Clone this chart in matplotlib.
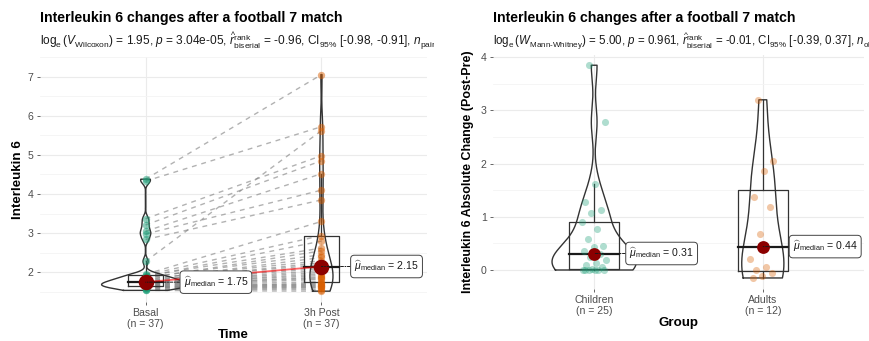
import numpy as np
import matplotlib
matplotlib.use("Agg")
import matplotlib.pyplot as plt
from matplotlib.transforms import Bbox, TransformedBbox

plt.rcParams['font.family'] = ['Liberation Sans', 'DejaVu Sans']
plt.rcParams['mathtext.fontset'] = 'custom'
plt.rcParams['mathtext.rm'] = 'Liberation Sans'
plt.rcParams['mathtext.it'] = 'Liberation Sans:italic'
plt.rcParams['mathtext.bf'] = 'Liberation Sans:bold'

# ---------------------------------------------------------------- data
title = "Interleukin 6 changes after a football 7 match"

time_levels = ["Basal", "3h Post"]
# paired measurements, one entry per participant (same order in both lists)
il6_basal = [4.38, 4.33, 3.37, 3.21, 3.05, 2.98, 2.84, 2.28, 1.95, 1.93,
             1.91, 1.89, 1.87, 1.85, 1.83, 1.81, 1.79, 1.77, 1.75, 1.74,
             1.73, 1.72, 1.71, 1.70, 1.69, 1.68, 1.67, 1.66, 1.65, 1.64,
             1.63, 1.62, 1.61, 1.60, 1.58, 1.56, 1.54]
il6_post = [7.05, 5.72, 4.98, 4.85, 4.52, 4.10, 3.85, 5.62, 3.30, 2.94,
            2.62, 2.80, 2.45, 2.55, 2.30, 2.38, 2.20, 2.25, 2.10, 2.15,
            2.00, 2.05, 1.92, 1.96, 1.85, 1.88, 1.76, 1.82, 1.70, 1.72,
            1.66, 1.68, 1.62, 1.64, 1.56, 1.60, 1.52]

group_levels = ["Children", "Adults"]
change_children = [3.85, 2.78, 1.62, 1.27, 1.12, 1.08, 0.91, 0.77, 0.58, 0.45,
                   0.43, 0.35, 0.31, 0.25, 0.18, 0.14, 0.10, 0.05, 0.02, 0.0,
                   0.0, 0.0, 0.0, 0.0, 0.0]
change_adults = [3.20, 2.05, 1.87, 1.38, 1.19, 0.68, 0.20, 0.05, 0.0, -0.05,
                 -0.12, -0.15]

subtitle_within = (r"$\log_{\mathrm{e}}(V_{\mathrm{Wilcoxon}})$ = 1.95, $p$ = 3.04e-05, "
                   r"$\widehat{r}_{\mathrm{biserial}}^{\mathrm{rank}}$ = -0.96, "
                   r"CI$_{95\%}$ [-0.98, -0.91], $n_{\mathrm{pairs}}$ = 37")
subtitle_between = (r"$\log_{\mathrm{e}}(W_{\mathrm{Mann\text{-}Whitney}})$ = 5.00, $p$ = 0.961, "
                    r"$\widehat{r}_{\mathrm{biserial}}^{\mathrm{rank}}$ = -0.01, "
                    r"CI$_{95\%}$ [-0.39, 0.37], $n_{\mathrm{obs}}$ = 37")

# ---------------------------------------------------------------- style
PALETTE = ["#1B9E77", "#D95F02"]
OUTLINE = "#333333"
TICKCOL = "#4D4D4D"
MEDIAN_COL = "#8B0000"
W, H = 869, 341


def kde_nrd0(values, n=512):
    x = np.asarray(values, float)
    sd = x.std(ddof=1)
    q75, q25 = np.percentile(x, [75, 25])
    lo = min(sd, (q75 - q25) / 1.34) if q75 > q25 else sd
    bw = 0.9 * lo * len(x) ** -0.2
    grid = np.linspace(x.min(), x.max(), n)
    dens = np.exp(-0.5 * ((grid[:, None] - x[None, :]) / bw) ** 2).sum(1)
    dens /= len(x) * bw * np.sqrt(2 * np.pi)
    return grid, dens


def box_stats(values):
    x = np.asarray(values, float)
    q1, med, q3 = np.percentile(x, [25, 50, 75])
    iqr = q3 - q1
    lo = x[x >= q1 - 1.5 * iqr].min()
    hi = x[x <= q3 + 1.5 * iqr].max()
    return q1, med, q3, lo, hi


def style_axes(ax, ylim, major, minor):
    ax.set_xlim(0.4, 2.6)
    ax.set_ylim(*ylim)
    ax.set_yticks(major)
    ax.set_yticks(minor, minor=True)
    ax.set_xticks([1, 2])
    for s in ax.spines.values():
        s.set_visible(False)
    ax.grid(True, which="major", axis="both", color="#EBEBEB", lw=0.8, zorder=0)
    ax.grid(True, which="minor", axis="y", color="#F4F4F4", lw=0.6, zorder=0)
    ax.tick_params(axis="both", which="major", length=2.5, width=0.6, color=TICKCOL,
                   labelcolor=TICKCOL, labelsize=7.6, pad=2)
    ax.tick_params(axis="both", which="minor", length=0)
    ax.set_axisbelow(True)


def draw_violins_boxes(ax, groups, box_width):
    curves = [kde_nrd0(g) for g in groups]
    peak = max(d.max() for _, d in curves)
    for i, (grid, dens) in enumerate(curves):
        xc = i + 1
        half = 0.25 * dens / peak
        xs = np.concatenate([xc - half, (xc + half)[::-1], [xc - half[0]]])
        ys = np.concatenate([grid, grid[::-1], [grid[0]]])
        ax.plot(xs, ys, color=OUTLINE, lw=1.0, zorder=3)
        q1, med, q3, lo, hi = box_stats(groups[i])
        hw = box_width / 2
        ax.plot([xc - hw, xc + hw, xc + hw, xc - hw, xc - hw], [q1, q1, q3, q3, q1],
                color=OUTLINE, lw=0.9, zorder=3)
        ax.plot([xc - hw, xc + hw], [med, med], color="#1A1A1A", lw=1.6, zorder=3)
        ax.plot([xc, xc], [q3, hi], color=OUTLINE, lw=0.9, zorder=3)
        ax.plot([xc, xc], [lo, q1], color=OUTLINE, lw=0.9, zorder=3)


def median_labels(ax, groups, nudges, msize):
    meds = [float(np.median(g)) for g in groups]
    for i, m in enumerate(meds):
        xc = i + 1
        ax.scatter([xc], [m], s=msize, color=MEDIAN_COL, zorder=6, linewidths=0)
        ax.annotate(r"$\widehat{\mu}_{\mathrm{median}}$" + f" = {m:.2f}",
                    xy=(xc, m), xytext=(xc + nudges[i], m), textcoords="data",
                    ha="center", va="center", fontsize=7.6, color="#1A1A1A", zorder=7,
                    bbox=dict(boxstyle="round,pad=0.35,rounding_size=0.35", fc="white",
                              ec="#444444", lw=0.7),
                    arrowprops=dict(arrowstyle="-", color="#1A1A1A", lw=0.7,
                                    linestyle=(0, (3, 1.5, 1, 1.5)),
                                    shrinkA=0, shrinkB=0))
    return meds


def add_titles(fig, left_px, sub, sub_size, clip_right_px):
    fig.text(left_px / W, 1 - 18 / H, title, fontsize=10.2, fontweight="bold",
             ha="left", va="center")
    t = fig.text(left_px / W, 1 - 41 / H, sub, fontsize=sub_size, ha="left",
                 va="center", color="#1A1A1A")
    # the statistics line is cut at the edge of its own panel
    t.set_clip_box(TransformedBbox(Bbox.from_extents(0, 0, clip_right_px / W, 1),
                                   fig.transFigure))
    t.set_clip_on(True)


fig = plt.figure(figsize=(W / 100, H / 100), dpi=100)

# ---------------------------------------------------------------- within-subjects panel
all_vals = il6_basal + il6_post
lo_v, hi_v = min(all_vals), max(all_vals)
pad = 0.05 * (hi_v - lo_v)
ax1 = fig.add_axes([40 / W, (H - 302) / H, (427 - 40) / W, (302 - 57) / H])
style_axes(ax1, (lo_v - pad, hi_v + pad), np.arange(2, 8), np.arange(1.5, 7.6, 1.0))

for b, p in zip(il6_basal, il6_post):
    ax1.plot([1, 2], [b, p], color="#7F7F7F", alpha=0.6, lw=1.0,
             linestyle=(0, (3.5, 3.5)), zorder=2)
draw_violins_boxes(ax1, [il6_basal, il6_post], 0.2)
for i, g in enumerate([il6_basal, il6_post]):
    ax1.scatter(np.full(len(g), i + 1.0), g, s=28, color=PALETTE[i], alpha=0.5,
                linewidths=0, zorder=4)
meds1 = [float(np.median(g)) for g in [il6_basal, il6_post]]
ax1.plot([1, 2], meds1, color="red", alpha=0.6, lw=1.3, zorder=5)
median_labels(ax1, [il6_basal, il6_post], [0.4, 0.37], 125)

ax1.set_xticklabels([f"{lv}\n(n = {len(g)})" for lv, g in zip(time_levels, [il6_basal, il6_post])],
                    linespacing=1.1)
ax1.set_ylabel("Interleukin 6", fontsize=9.6, fontweight="bold", labelpad=3)
ax1.set_xlabel("Time", fontsize=9.6, fontweight="bold", labelpad=0)
add_titles(fig, 40, subtitle_within, 8.6, 434)

# ---------------------------------------------------------------- between-subjects panel
all_vals = change_children + change_adults
lo_v, hi_v = min(all_vals), max(all_vals)
pad = 0.05 * (hi_v - lo_v)
ax2 = fig.add_axes([493 / W, (H - 288.6) / H, (864 - 493) / W, (288.6 - 54.6) / H])
style_axes(ax2, (lo_v - pad, hi_v + pad), np.arange(0, 5), np.arange(0.5, 4.0, 1.0))

draw_violins_boxes(ax2, [change_children, change_adults], 0.3)
for i, g in enumerate([change_children, change_adults]):
    n = len(g)
    offs = ((np.arange(n) * 0.6180339887 + 0.3) % 1.0 - 0.5) * 0.15
    ax2.scatter(i + 1 + offs, g, s=26, color=PALETTE[i], alpha=0.35,
                linewidths=0, zorder=4)
median_labels(ax2, [change_children, change_adults], [0.4, 0.37], 85)

ax2.set_xticklabels([f"{lv}\n(n = {len(g)})" for lv, g in zip(group_levels, [change_children, change_adults])],
                    linespacing=1.1)
ax2.set_ylabel("Interleukin 6 Absolute Change (Post-Pre)", fontsize=9.0,
               fontweight="bold", labelpad=5)
ax2.set_xlabel("Group", fontsize=9.6, fontweight="bold", labelpad=1)
add_titles(fig, 493, subtitle_between, 8.3, W)

fig.savefig("out.png", dpi=100)
